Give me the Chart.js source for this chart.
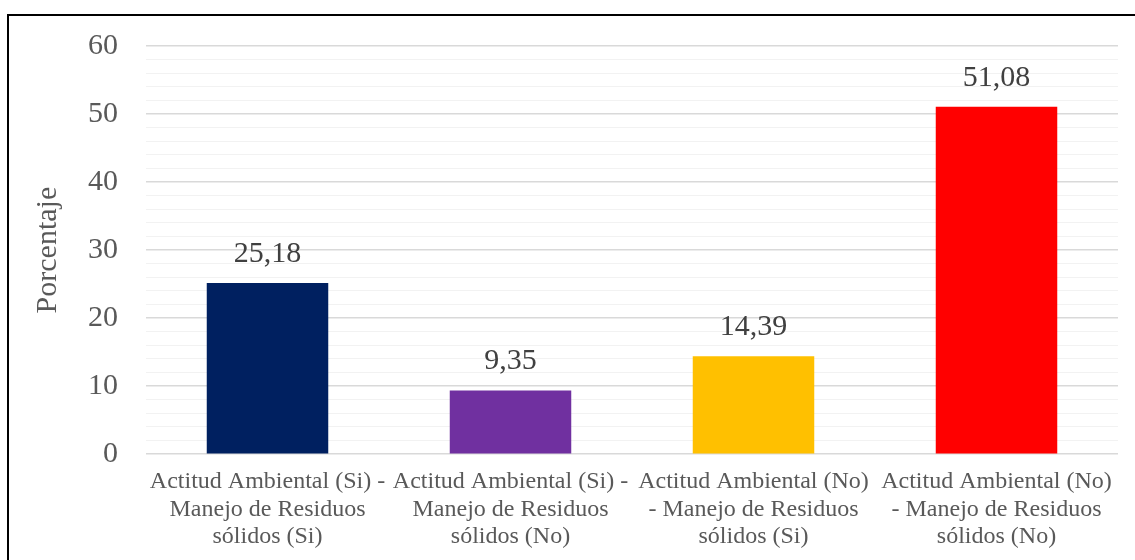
<!DOCTYPE html>
<html>
<head>
<meta charset="utf-8">
<script src="https://cdn.jsdelivr.net/npm/chart.js@4"></script>
<style>
  html, body { margin: 0; padding: 0; background: #fff; overflow: hidden; }
  #wrap { position: relative; width: 1135px; height: 560px; }
  #frame { position: absolute; left: 7px; top: 14px; width: 1200px; height: 600px; border: 2px solid #000; box-sizing: border-box; pointer-events: none; }
</style>
</head>
<body>
<div id="wrap">
  <canvas id="chart" width="1135" height="560"></canvas>
  <div id="frame"></div>
</div>
<script>
// categorías y valores (%)
const categories = [
  ['Actitud Ambiental (Si) -', 'Manejo de Residuos', 'sólidos (Si)'],
  ['Actitud Ambiental (Si) -', 'Manejo de Residuos', 'sólidos (No)'],
  ['Actitud Ambiental (No)', '- Manejo de Residuos', 'sólidos (Si)'],
  ['Actitud Ambiental (No)', '- Manejo de Residuos', 'sólidos (No)']
];
const percentages = [25.18, 9.35, 14.39, 51.08];
const barColors = ['#002060', '#7030A0', '#FFC000', '#FF0000'];
const yMax = 60;

const FONT = '"Liberation Serif", "Times New Roman", serif';

// etiquetas sobre cada barra
const valueLabels = {
  id: 'valueLabels',
  afterDatasetsDraw(chart) {
    const ctx = chart.ctx;
    const meta = chart.getDatasetMeta(0);
    ctx.save();
    ctx.font = '30px ' + FONT;
    ctx.fillStyle = '#404040';
    ctx.textAlign = 'center';
    ctx.textBaseline = 'middle';
    meta.data.forEach((bar, i) => {
      const txt = percentages[i].toFixed(2).replace('.', ',');
      ctx.fillText(txt, bar.x, bar.y - 29);
    });
    ctx.restore();
  }
};

new Chart(document.getElementById('chart').getContext('2d'), {
  type: 'bar',
  data: {
    labels: categories,
    datasets: [{
      data: percentages,
      backgroundColor: barColors,
      barPercentage: 0.5,
      categoryPercentage: 1.0
    }]
  },
  options: {
    responsive: false,
    animation: false,
    layout: { padding: { top: 34, right: 17, left: 30, bottom: 3 } },
    plugins: {
      legend: { display: false },
      tooltip: { enabled: false }
    },
    scales: {
      x: {
        grid: { display: false },
        border: { display: false },
        ticks: {
          color: '#595959',
          font: { family: FONT, size: 24, lineHeight: 1.15 },
          maxRotation: 0,
          autoSkip: false,
          padding: 6
        }
      },
      y: {
        min: 0,
        max: yMax,
        border: { display: false },
        grid: {
          drawTicks: false,
          color: c => (c.tick && c.tick.value % 10 === 0) ? '#d9d9d9' : '#f2f2f2',
          lineWidth: c => (c.tick && c.tick.value % 10 === 0) ? 1.5 : 1
        },
        ticks: {
          stepSize: 2,
          autoSkip: false,
          color: '#595959',
          font: { family: FONT, size: 30 },
          padding: 28,
          callback: v => (v % 10 === 0 ? String(v) : '')
        },
        title: {
          display: true,
          text: 'Porcentaje',
          color: '#595959',
          font: { family: FONT, size: 30, lineHeight: 1.2 },
          padding: { top: 0, bottom: -6 }
        }
      }
    }
  },
  plugins: [valueLabels]
});
</script>
</body>
</html>
